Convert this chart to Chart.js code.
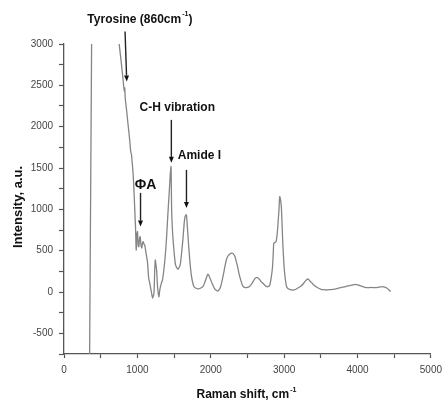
<!DOCTYPE html>
<html>
<head>
<meta charset="utf-8">
<script src="https://cdn.jsdelivr.net/npm/chart.js@4.4.1/dist/chart.umd.min.js"></script>
<style>
  body { margin: 0; background: #fff; }
  canvas { display: block; }
</style>
</head>
<body>
<canvas id="spectrum" width="448" height="402"></canvas>
<script>
// Raman spectrum, values (null = gap in the trace)
const ramanShift = [
    348, 377, 560,
    745, 752, 780, 805, 815, 822, 828, 835, 855, 870, 886, 900, 909, 920, 930, 944, 956,
    966, 975, 984, 993, 1002, 1011, 1020, 1030, 1038, 1050, 1060, 1070, 1078, 1090, 1100,
    1118, 1137, 1154, 1170, 1181, 1195, 1208, 1226, 1236, 1244, 1253, 1262, 1275, 1293,
    1305, 1315, 1328, 1342, 1360, 1379, 1395, 1409, 1423, 1436, 1448, 1459, 1467, 1480,
    1494, 1507, 1520, 1540, 1557, 1570, 1584, 1600, 1620, 1635, 1647, 1660, 1669, 1685,
    1700, 1715, 1732, 1750, 1772, 1800, 1826, 1860, 1893, 1920, 1946, 1960, 1975, 2000,
    2025, 2050, 2075, 2094, 2115, 2134, 2160, 2184, 2205, 2228, 2260, 2290, 2305, 2330,
    2349, 2370, 2389, 2410, 2430, 2450, 2470, 2500, 2523, 2550, 2577, 2600, 2631, 2650,
    2671, 2690, 2711, 2740, 2765, 2790, 2805, 2825, 2842, 2852, 2859, 2875, 2890, 2905,
    2917, 2930, 2940, 2950, 2962, 2972, 2980, 2990, 3003, 3020, 3034, 3055, 3074, 3100,
    3128, 3155, 3181, 3210, 3235, 3270, 3302, 3329, 3355, 3383, 3410, 3436, 3470, 3503,
    3535, 3570, 3620, 3664, 3720, 3772, 3820, 3866, 3920, 3973, 4005, 4040, 4090, 4134,
    4190, 4242, 4290, 4336, 4370, 4403, 4430, 4452
]
const intensity = [
    -900, 3100, null,
    3090, 3000, 2780, 2567, 2480, 2430, 2470, 2340, 2183, 2050, 1921, 1790, 1700, 1660, 1560, 1400, 1180,
    960, 775, 508, 700, 730, 560, 548, 650, 670, 560, 533, 590, 609, 580, 569,
    470, 367, 170, 100, 48, -20, -73, -16, 250, 387, 330, 266, 64, -57,
    20, 64, 110, 145, 260, 427, 620, 835, 1050, 1234, 1420, 1517, 993, 720,
    548, 420, 327, 290, 278, 300, 327, 450, 630, 800, 900, 930, 932, 740,
    548, 380, 226, 130, 64, 45, 36, 45, 64, 120, 185, 215, 200, 145,
    90, 45, 20, 12, 30, 64, 160, 266, 360, 427, 460, 470, 465, 430,
    367, 290, 206, 140, 85, 60, 52, 55, 64, 90, 125, 160, 178, 165,
    145, 120, 105, 80, 64, 70, 85, 180, 306, 470, 590, 600, 609, 700,
    832, 1000, 1154, 1120, 1033, 820, 630, 450, 266, 130, 64, 40, 33, 25,
    24, 30, 45, 60, 75, 110, 145, 157, 130, 105, 80, 64, 45, 33,
    28, 24, 28, 33, 42, 52, 62, 73, 82, 93, 85, 73, 60, 52,
    55, 52, 58, 64, 58, 45, 25, 4
]

const xTicks = [0, 1000, 2000, 3000, 4000, 5000]
const yTicks = [-500, 0, 500, 1000, 1500, 2000, 2500, 3000]

// peak labels and their arrows, in data units
const noteText = ['Tyrosine (860cm', 'C-H vibration', 'Amide I', 'ΦA']
const noteSup = ['-1', '', '', '']
const noteEnd = [')', '', '', '']
const noteX = [1034, 1544, 1846, 1110]
const noteY = [3293, 2228, 1646, 1295]
const arrowFromX = [832, 1463, 1669, 1043]
const arrowFromY = [3150, 2082, 1477, 1199]
const arrowToX = [855, 1463, 1669, 1043]
const arrowToY = [2546, 1562, 1017, 791]

const points = ramanShift.map((x, i) => ({ x: x, y: intensity[i] }))

const fontOf = size => 'bold ' + size + 'px "Liberation Sans", Arial, sans-serif'

// text with a small raised part and an optional tail, centred on cx
const drawSup = (ctx, text, sup, tail, cx, cy, size) => {
    const small = Math.round(size * 0.6)
    ctx.font = fontOf(size)
    const w = ctx.measureText(text).width
    const tw = tail ? ctx.measureText(tail).width : 0
    ctx.font = fontOf(small)
    const sw = sup ? ctx.measureText(sup).width + 1 : 0
    const left = cx - (w + sw + tw) / 2
    ctx.textAlign = 'left'
    ctx.textBaseline = 'middle'
    ctx.font = fontOf(size)
    ctx.fillText(text, left, cy)
    if (tail) ctx.fillText(tail, left + w + sw, cy)
    if (sup) {
        ctx.font = fontOf(small)
        ctx.fillText(sup, left + w + 1, cy - size * 0.45)
    }
}

const notesPlugin = {
    id: 'notes',
    afterDraw(chart) {
        const ctx = chart.ctx
        const xs = chart.scales.x
        const ys = chart.scales.y
        const area = chart.chartArea
        ctx.save()
        ctx.fillStyle = '#111'
        ctx.strokeStyle = '#222'
        ctx.lineWidth = 1.4

        noteText.forEach((t, i) => {
            const size = t === 'ΦA' ? 14 : 12
            drawSup(ctx, t, noteSup[i], noteEnd[i], xs.getPixelForValue(noteX[i]), ys.getPixelForValue(noteY[i]), size)

            const x0 = xs.getPixelForValue(arrowFromX[i])
            const y0 = ys.getPixelForValue(arrowFromY[i])
            const x1 = xs.getPixelForValue(arrowToX[i])
            const y1 = ys.getPixelForValue(arrowToY[i])
            const ang = Math.atan2(y1 - y0, x1 - x0)
            const head = 6
            ctx.beginPath()
            ctx.moveTo(x0, y0)
            ctx.lineTo(x1 - Math.cos(ang) * head, y1 - Math.sin(ang) * head)
            ctx.stroke()
            ctx.beginPath()
            ctx.moveTo(x1, y1)
            ctx.lineTo(x1 - Math.cos(ang) * head - Math.sin(ang) * 2.5, y1 - Math.sin(ang) * head + Math.cos(ang) * 2.5)
            ctx.lineTo(x1 - Math.cos(ang) * head + Math.sin(ang) * 2.5, y1 - Math.sin(ang) * head - Math.cos(ang) * 2.5)
            ctx.closePath()
            ctx.fill()
        })

        // axis titles
        drawSup(ctx, 'Raman shift, cm', '-1', '', (area.left + area.right) / 2 - 1, 395, 12)
        ctx.translate(18, 207)
        ctx.rotate(-Math.PI / 2)
        drawSup(ctx, 'Intensity, a.u.', '', '', 0, 0, 13)
        ctx.restore()
    }
}

new Chart(
    document.getElementById('spectrum'),
    {
        type: 'line',
        data: {
            datasets: [
                {
                    data: points,
                    borderColor: '#858585',
                    borderWidth: 1.3,
                    pointRadius: 0,
                    tension: 0.2,
                    spanGaps: false
                }
            ]
        },
        options: {
            responsive: false,
            animation: false,
            devicePixelRatio: 1,
            layout: {
                padding: { top: 44, right: 12, left: 0, bottom: 0 }
            },
            plugins: {
                legend: { display: false },
                tooltip: { enabled: false }
            },
            scales: {
                x: {
                    type: 'linear',
                    min: 0,
                    max: 5000,
                    afterFit: s => { s.height = 48 },
                    border: { color: '#555', width: 1.3 },
                    grid: { drawOnChartArea: false, tickLength: 4, tickColor: '#555', tickWidth: 1.2 },
                    ticks: {
                        stepSize: 500,
                        autoSkip: false,
                        maxRotation: 0,
                        padding: 6,
                        color: '#444',
                        font: { family: '"Liberation Sans", Arial, sans-serif', size: 10 },
                        callback: v => xTicks.includes(v) ? String(v) : ''
                    }
                },
                y: {
                    min: -750,
                    max: 3000,
                    afterFit: s => { s.width = 64 },
                    border: { color: '#555', width: 1.3 },
                    grid: { drawOnChartArea: false, tickLength: 5, tickColor: '#555', tickWidth: 1.2 },
                    ticks: {
                        stepSize: 250,
                        autoSkip: false,
                        padding: 6,
                        color: '#444',
                        font: { family: '"Liberation Sans", Arial, sans-serif', size: 10 },
                        callback: v => yTicks.includes(v) ? String(v) : ''
                    }
                }
            }
        },
        plugins: [notesPlugin]
    }
)
</script>
</body>
</html>
